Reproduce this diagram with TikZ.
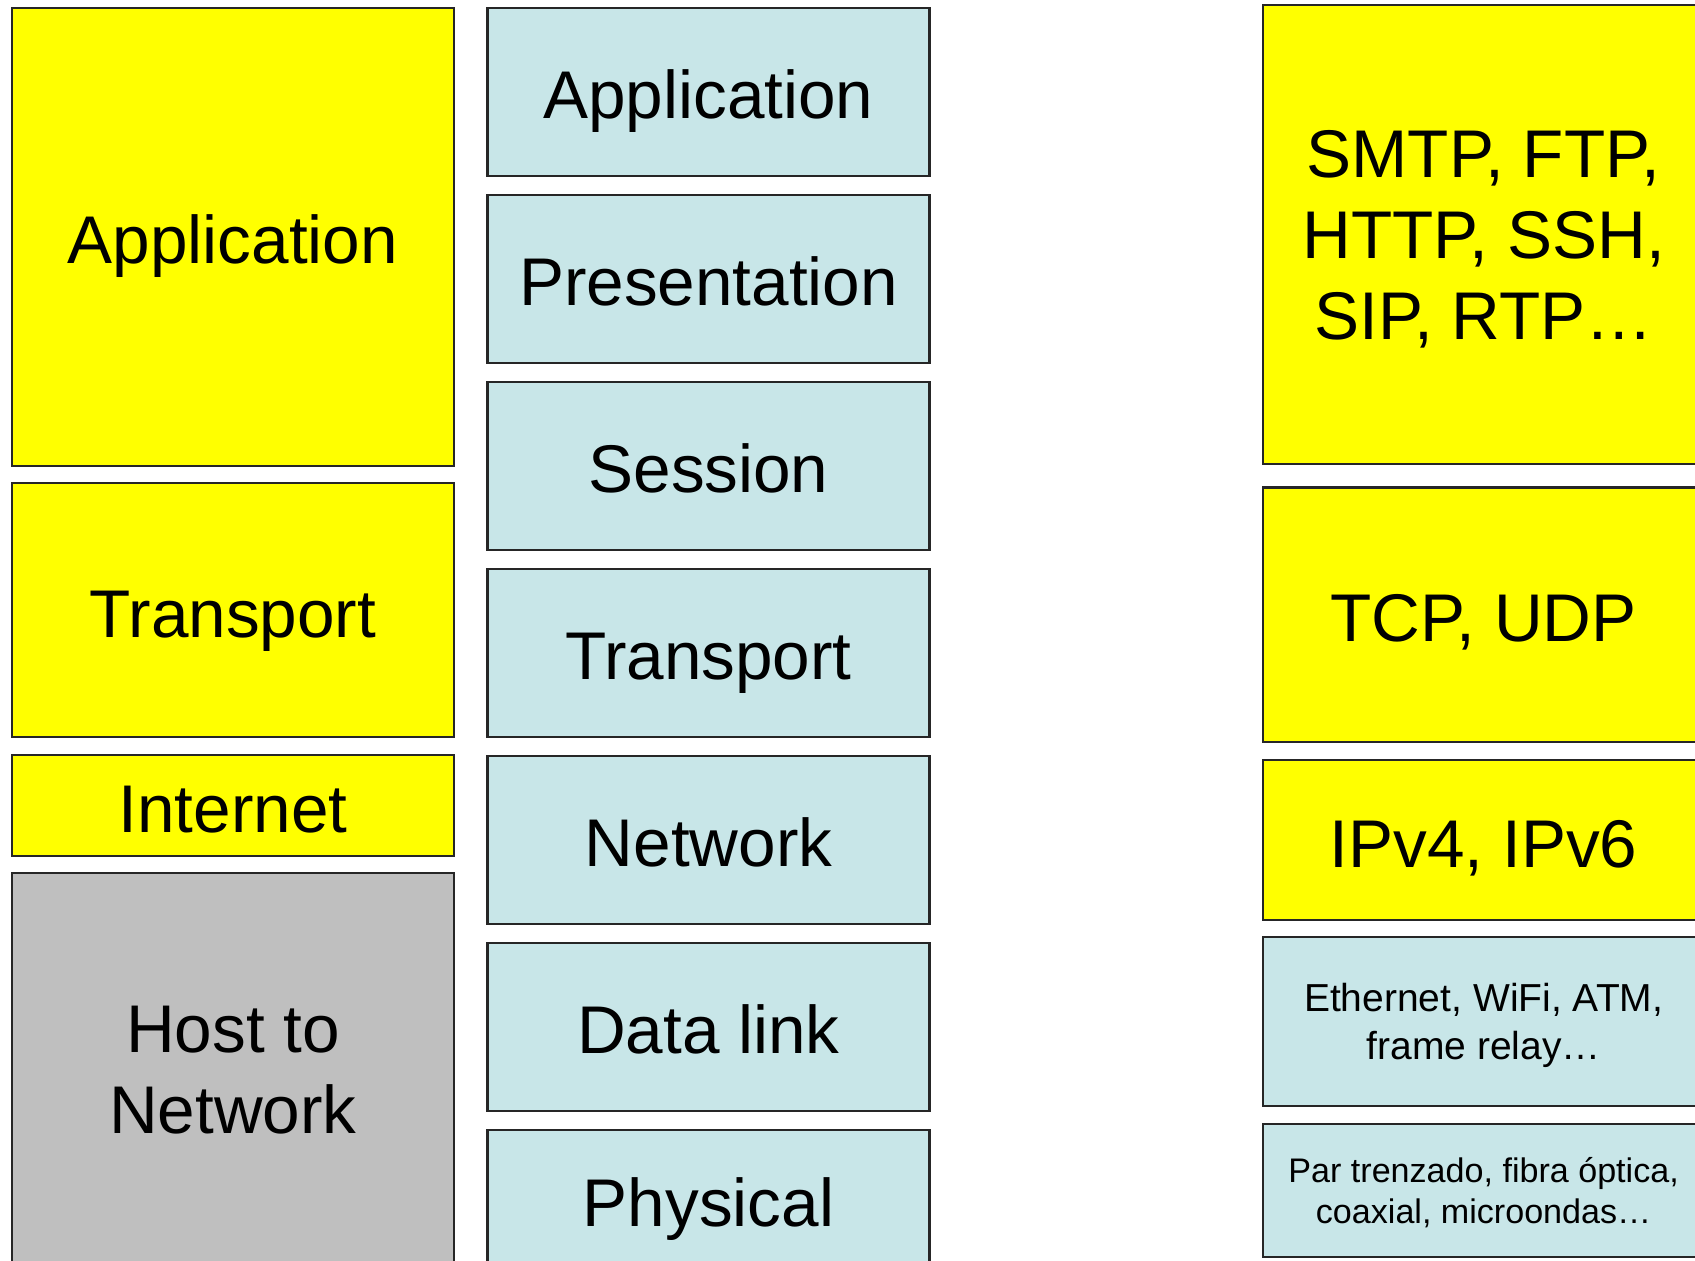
\documentclass[tikz,border=0pt]{standalone}
\usepackage{fontspec}
\setmainfont{Liberation Sans}
\usetikzlibrary{positioning}

\definecolor{capaAmarilla}{RGB}{255,255,0}
\definecolor{capaAzul}{RGB}{200,230,232}
\definecolor{capaGris}{RGB}{191,191,191}

\tikzset{
  capa/.style={draw=black!85, line width=0.6pt, inner sep=0pt, outer sep=0pt,
    minimum width=4.42cm, align=center, font=\fontsize{19.2}{23}\selectfont,
    text height=15.4pt, text depth=0pt},
  varias/.style={text height=, text depth=#1},
  varias/.default=0pt,
  tcpip/.style={capa, fill=capaAmarilla},
  osi/.style={capa, fill=capaAzul, minimum height=1.685cm},
  hostred/.style={capa, fill=capaGris},
  chica/.style={font=\fontsize{11.1}{13.8}\selectfont},
  minima/.style={font=\fontsize{9.7}{11.7}\selectfont}
}

\begin{document}
\begin{tikzpicture}
    \useasboundingbox (0,0) rectangle (16.95,-12.6);
    \clip (0,0) rectangle (16.95,-12.6);

    % modelo TCP/IP
    \node[tcpip, minimum height=4.584cm, anchor=north west] (tcpApp) at (0.12,-0.076) {Application};
    \node[tcpip, minimum height=2.54cm, below=0.17 of tcpApp] (tcpTrans) {Transport};
    \node[tcpip, minimum height=1.014cm, below=0.176 of tcpTrans] (tcpInet) {Internet};
    \node[hostred, varias=-1.8pt, minimum height=3.94cm, below=0.17 of tcpInet] (tcpHost) {Host to\\Network};

    % modelo OSI
    \node[osi, anchor=north west] (osiApp) at (4.875,-0.076) {Application};
    \node[osi, below=0.185 of osiApp] (osiPres) {Presentation};
    \node[osi, below=0.185 of osiPres] (osiSes) {Session};
    \node[osi, below=0.185 of osiSes] (osiTrans) {Transport};
    \node[osi, below=0.185 of osiTrans] (osiNet) {Network};
    \node[osi, below=0.185 of osiNet] (osiLink) {Data link};
    \node[osi, minimum height=1.39cm, below=0.185 of osiLink] (osiPhys) {Physical};

    % protocolos
    \node[tcpip, varias=-1.2pt, minimum height=4.586cm, anchor=north west] (protoApp) at (12.626,-0.054) {SMTP, FTP,\\HTTP, SSH,\\SIP, RTP\dots};
    \node[tcpip, minimum height=2.541cm, below=0.235 of protoApp] (protoTrans) {TCP, UDP};
    \node[tcpip, minimum height=1.6cm, below=0.184 of protoTrans] (protoNet) {IPv4, IPv6};
    \node[osi, chica, varias, minimum height=1.69cm, below=0.17 of protoNet] (protoLink) {Ethernet, WiFi, ATM,\\frame relay\dots};
    \node[osi, minima, varias, minimum height=1.33cm, below=0.18 of protoLink] (protoPhys) {Par trenzado, fibra óptica,\\coaxial, microondas\dots};
\end{tikzpicture}
\end{document}
